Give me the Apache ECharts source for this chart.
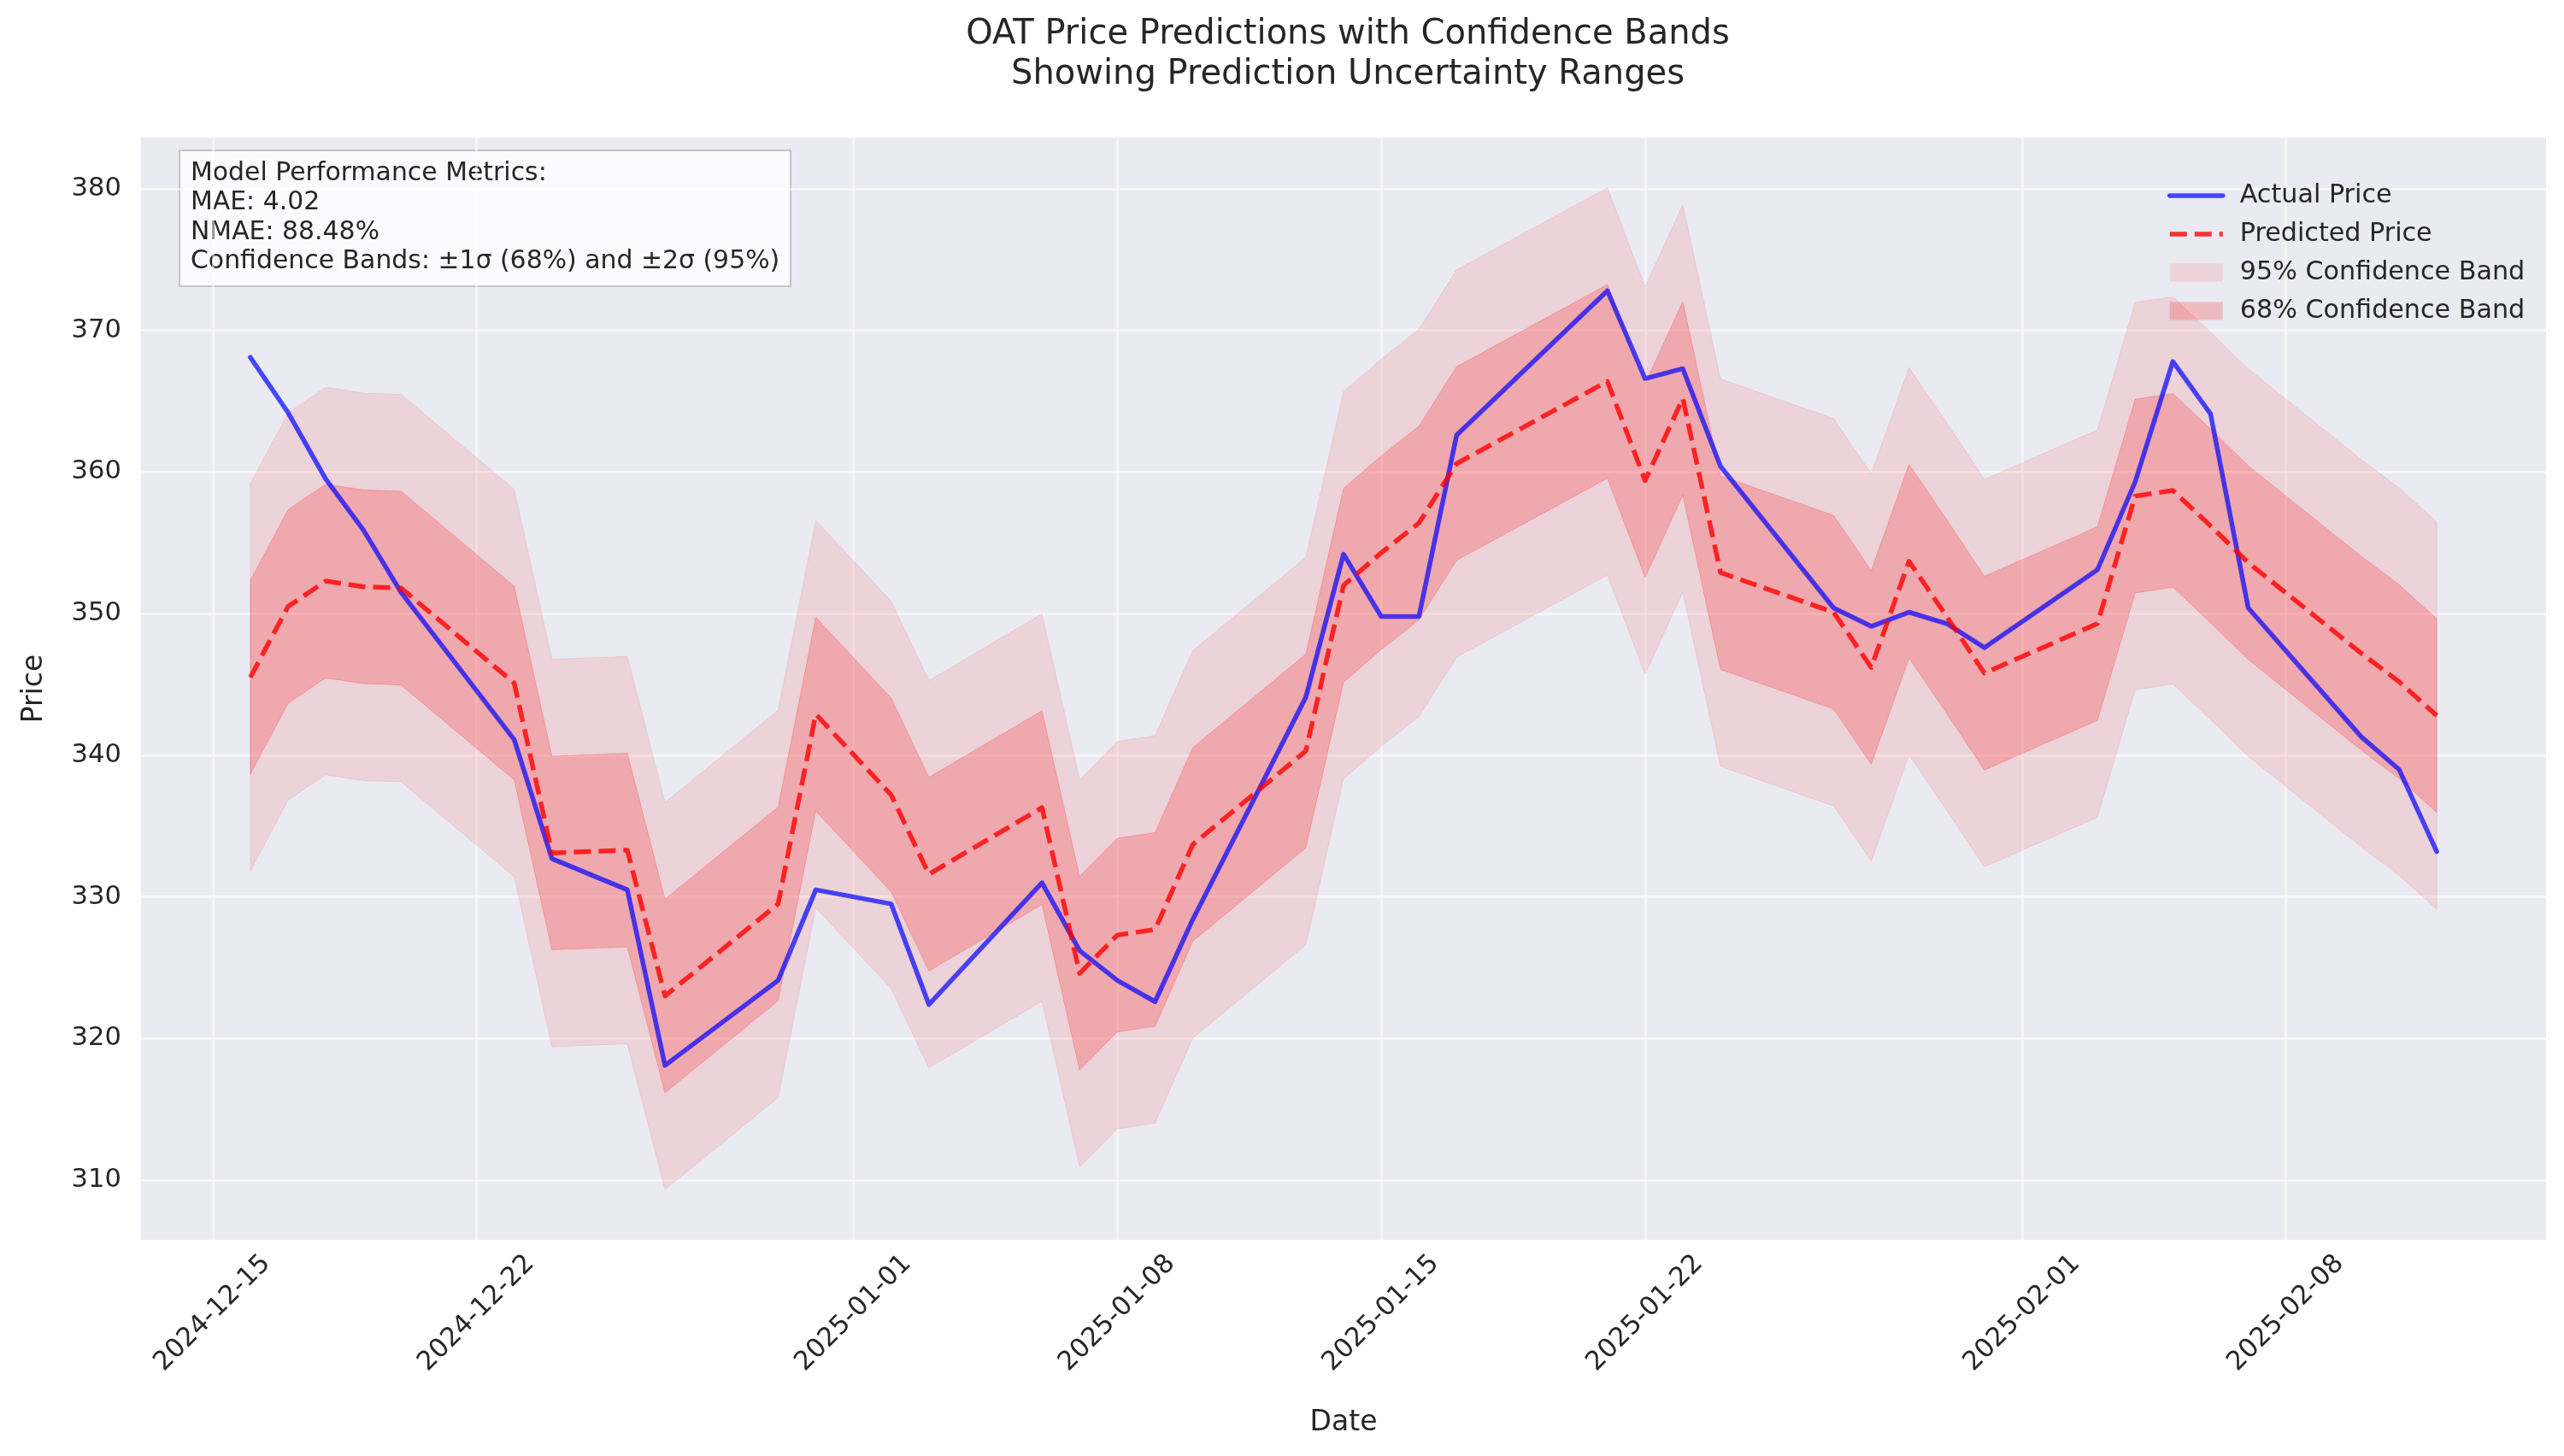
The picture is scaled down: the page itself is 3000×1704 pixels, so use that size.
<!DOCTYPE html>
<html><head><meta charset="utf-8">
<script src="https://cdn.jsdelivr.net/npm/echarts@6/dist/echarts.min.js"></script>
<style>html,body{margin:0;padding:0;background:#fff}#c{width:3000px;height:1704px}</style>
</head><body><div id="c"></div>
<script>
const DATES = ['2024-12-16','2024-12-17','2024-12-18','2024-12-19','2024-12-20','2024-12-23','2024-12-24','2024-12-26','2024-12-27','2024-12-30','2024-12-31',
  '2025-01-02','2025-01-03','2025-01-06','2025-01-07','2025-01-08','2025-01-09','2025-01-10','2025-01-13','2025-01-14','2025-01-15','2025-01-16','2025-01-17',
  '2025-01-21','2025-01-22','2025-01-23','2025-01-24','2025-01-27','2025-01-28','2025-01-29','2025-01-30','2025-01-31',
  '2025-02-03','2025-02-04','2025-02-05','2025-02-06','2025-02-07','2025-02-10','2025-02-11','2025-02-12'];
const ACTUAL = [368.1,364.2,359.5,355.9,351.5,341.1,332.7,330.5,318.1,324.1,330.5,
  329.5,322.4,331.0,326.2,324.1,322.6,328.4,344.1,354.2,349.8,349.8,362.6,
  372.8,366.6,367.3,360.4,350.4,349.1,350.1,349.3,347.6,
  353.1,359.3,367.8,364.1,350.4,341.3,339.0,333.2];
const PREDICTED = [345.5,350.5,352.3,351.9,351.8,345.1,333.1,333.3,323.0,329.5,342.9,
  337.2,331.6,336.3,324.6,327.3,327.7,333.7,340.3,352.0,354.3,356.4,360.6,
  366.4,359.4,365.2,352.9,350.1,346.2,353.7,349.8,345.8,
  349.3,358.3,358.7,356.2,353.6,347.2,345.2,342.8];
const SIGMA = 6.84;
const XTICKS = ['2024-12-15','2024-12-22','2025-01-01','2025-01-08','2025-01-15','2025-01-22','2025-02-01','2025-02-08'];
const YTICKS = [310,320,330,340,350,360,370,380];
const TITLE = 'OAT Price Predictions with Confidence Bands\nShowing Prediction Uncertainty Ranges';
const METRICS = ['Model Performance Metrics:','MAE: 4.02','NMAE: 88.48%','Confidence Bands: \u00b11\u03c3 (68%) and \u00b12\u03c3 (95%)'];

function ts(s){const p=s.split('-').map(Number);return Date.UTC(p[0],p[1]-1,p[2]);}
function fmt(v){const d=new Date(v);const z=n=>(n<10?'0':'')+n;return d.getUTCFullYear()+'-'+z(d.getUTCMonth()+1)+'-'+z(d.getUTCDate());}
const X = DATES.map(ts);
const pair = arr => X.map((x,i)=>[x,arr[i]]);

const FONT = 'DejaVu Sans';
const TXT = '#262626';
const BLUE = 'rgba(0,0,255,0.7)';
const RED = 'rgba(255,0,0,0.8)';

function band(name, k, color, z){
  return {name, type:'custom', z, silent:true, clip:true,
    data: X.map((x,i)=>[x, PREDICTED[i]-k*SIGMA, PREDICTED[i]+k*SIGMA]),
    encode:{x:0, y:[1,2]},
    itemStyle:{color},
    renderItem:(params, api)=>{
      if (params.dataIndexInside !== 0) return null;
      const n = params.dataInsideLength;
      const up = [], lo = [];
      for (let j=0;j<n;j++){
        up.push(api.coord([api.value(0,j), api.value(2,j)]));
        lo.push(api.coord([api.value(0,j), api.value(1,j)]));
      }
      return {type:'polygon', shape:{points: up.concat(lo.reverse())},
        style:{fill:color, stroke:color, lineWidth:1}};
    }};
}

const chart = echarts.init(document.getElementById('c'), null, {renderer:'canvas'});
chart.setOption({
  animation:false,
  backgroundColor:'#ffffff',
  textStyle:{fontFamily:FONT},
  title:{text:TITLE, left:1572, top:12, textAlign:'center',
    textStyle:{fontFamily:FONT, fontSize:40, fontWeight:'normal', lineHeight:47, color:TXT}},
  grid:{left:165, right:21, top:161, bottom:253, show:true, backgroundColor:'#EAEAF2', borderWidth:0, containLabel:false},
  legend:{orient:'vertical', left:2536, top:214, itemWidth:62, itemHeight:21, itemGap:15, padding:0,
    selectedMode:false,
    textStyle:{fontFamily:FONT, fontSize:30.2, lineHeight:30, color:TXT, padding:[0,0,0,15]},
    data:[{name:'Actual Price', itemStyle:{opacity:0}, lineStyle:{width:5.5, color:BLUE, type:'solid', cap:'round'}},
      {name:'Predicted Price', itemStyle:{opacity:0}, lineStyle:{width:5.5, color:RED, type:[20,9]}},
      {name:'95% Confidence Band', icon:'rect', itemStyle:{color:'rgba(255,0,0,0.1)'}},
      {name:'68% Confidence Band', icon:'rect', itemStyle:{color:'rgba(255,0,0,0.2)'}}]},
  xAxis:{type:'value', scale:true,
    min: v => v.min - 0.05*(v.max-v.min),
    max: v => v.max + 0.05*(v.max-v.min),
    name:'Date', nameLocation:'middle', nameGap:198,
    nameTextStyle:{fontFamily:FONT, fontSize:33, color:TXT},
    axisLine:{show:false},
    axisTick:{show:false, customValues:XTICKS.map(ts)},
    axisLabel:{customValues:XTICKS.map(ts), rotate:45, align:'center', verticalAlign:'middle', margin:86,
      fontFamily:FONT, fontSize:30.6, color:TXT, hideOverlap:false, formatter: v => fmt(v)},
    splitLine:{show:true, lineStyle:{color:'rgba(255,255,255,0.55)', width:2.8}}},
  yAxis:{type:'value', scale:true,
    min: v => v.min - 0.05*(v.max-v.min),
    max: v => v.max + 0.05*(v.max-v.min),
    name:'Price', nameLocation:'middle', nameGap:108,
    nameTextStyle:{fontFamily:FONT, fontSize:33, color:TXT},
    axisLine:{show:false},
    axisTick:{show:false, customValues:YTICKS},
    axisLabel:{customValues:YTICKS, margin:23, fontFamily:FONT, fontSize:30.6, color:TXT},
    splitLine:{show:true, lineStyle:{color:'rgba(255,255,255,0.55)', width:2.8}}},
  graphic:[{type:'group', left:209, top:175, z:100, children:[
    {type:'rect', shape:{x:0,y:0,width:715,height:159}, style:{fill:'rgba(255,255,255,0.8)', stroke:'#c4c4c4', lineWidth:2}},
    {type:'text', style:{x:13, y:10, text:METRICS.join('\n'), font:'29.9px "DejaVu Sans"', lineHeight:34.4, fill:TXT, verticalAlign:'top'}}
  ]}],
  series:[
    band('95% Confidence Band', 2, 'rgba(255,0,0,0.1)', 1),
    band('68% Confidence Band', 1, 'rgba(255,0,0,0.2)', 2),
    {name:'Actual Price', type:'line', data:pair(ACTUAL), symbol:'none', z:4,
      itemStyle:{color:BLUE}, lineStyle:{color:BLUE, width:5.5, cap:'round', join:'round'}},
    {name:'Predicted Price', type:'line', data:pair(PREDICTED), symbol:'none', z:5,
      itemStyle:{color:RED}, lineStyle:{color:RED, width:5.5, type:[20,9], join:'round'}}
  ]
});
</script></body></html>
